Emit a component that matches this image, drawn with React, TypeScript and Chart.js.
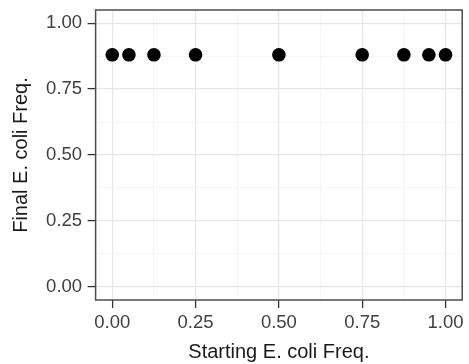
import React, { useEffect, useRef } from "react";
import { Chart, registerables } from "chart.js";

Chart.register(...registerables);

const startFreq = [0, 0.05, 0.125, 0.25, 0.5, 0.75, 0.875, 0.95, 1];
const finalFreq = [0.88, 0.88, 0.88, 0.88, 0.88, 0.88, 0.88, 0.88, 0.88];
const majorTicks = [0, 0.25, 0.5, 0.75, 1];
const allTicks = [0, 0.125, 0.25, 0.375, 0.5, 0.625, 0.75, 0.875, 1];
const xTitle = "Starting E. coli Freq.";
const yTitle = "Final E. coli Freq.";

const FONT = "'Liberation Sans', Arial, sans-serif";
const isMajor = (v: number) => majorTicks.some((m) => Math.abs(m - v) < 1e-9);

const panelBorder = {
  id: "panelBorder",
  beforeDatasetsDraw(chart: any) {
    const { ctx, chartArea } = chart;
    ctx.save();
    ctx.strokeStyle = "#4d4d4d";
    ctx.lineWidth = 1.5;
    ctx.strokeRect(chartArea.left, chartArea.top, chartArea.right - chartArea.left, chartArea.bottom - chartArea.top);
    ctx.restore();
  },
};

function axisOptions(title: string, isX: boolean) {
  return {
    type: "linear" as const,
    min: -0.05,
    max: 1.05,
    afterBuildTicks: (scale: any) => {
      scale.ticks = allTicks.map((v) => ({ value: v }));
    },
    afterFit: (scale: any) => {
      if (isX) {
        scale.height = 64;
        scale.paddingLeft = 0;
        scale.paddingRight = 0;
      } else {
        scale.width = 95.6;
        scale.paddingTop = 0;
        scale.paddingBottom = 0;
      }
    },
    grid: {
      color: (c: any) => (c.tick && isMajor(c.tick.value) ? "#e6e6e6" : "#f2f2f2"),
      lineWidth: (c: any) => (c.tick && isMajor(c.tick.value) ? 1.2 : 0.8),
      tickColor: (c: any) => (c.tick && isMajor(c.tick.value) ? "#333333" : "rgba(0,0,0,0)"),
      tickLength: 8,
      tickWidth: 1.3,
      drawTicks: true,
    },
    border: { display: false },
    ticks: {
      autoSkip: false,
      maxRotation: 0,
      padding: isX ? 4 : 5.5,
      color: "#404040",
      font: { family: FONT, size: 18.5 },
      callback: (v: any) => (isMajor(Number(v)) ? Number(v).toFixed(2) : ""),
    },
    title: {
      display: true,
      text: title,
      color: "#1a1a1a",
      font: { family: FONT, size: 20 },
      padding: isX ? { top: 0, bottom: 0 } : { top: 9, bottom: 0 },
    },
  };
}

export default function App() {
  const ref = useRef<HTMLCanvasElement | null>(null);
  useEffect(() => {
    if (!ref.current) return;
    const chart = new Chart(ref.current, {
      type: "scatter",
      data: {
        datasets: [
          {
            data: startFreq.map((x, i) => ({ x, y: finalFreq[i] })),
            backgroundColor: "#000000",
            borderWidth: 0,
            pointRadius: 6.8,
          },
        ],
      },
      options: {
        responsive: false,
        animation: false,
        layout: { padding: { top: 10, right: 5.6, left: 0, bottom: 0 } },
        plugins: { legend: { display: false }, tooltip: { enabled: false } },
        scales: {
          x: axisOptions(xTitle, true),
          y: axisOptions(yTitle, false),
        },
      },
      plugins: [panelBorder],
    });
    return () => chart.destroy();
  }, []);
  return (
    <div style={{ position: "fixed", left: 0, top: 0, width: 469, height: 364, background: "#fff" }}>
      <canvas ref={ref} width={469} height={364} style={{ width: 469, height: 364 }} />
    </div>
  );
}
